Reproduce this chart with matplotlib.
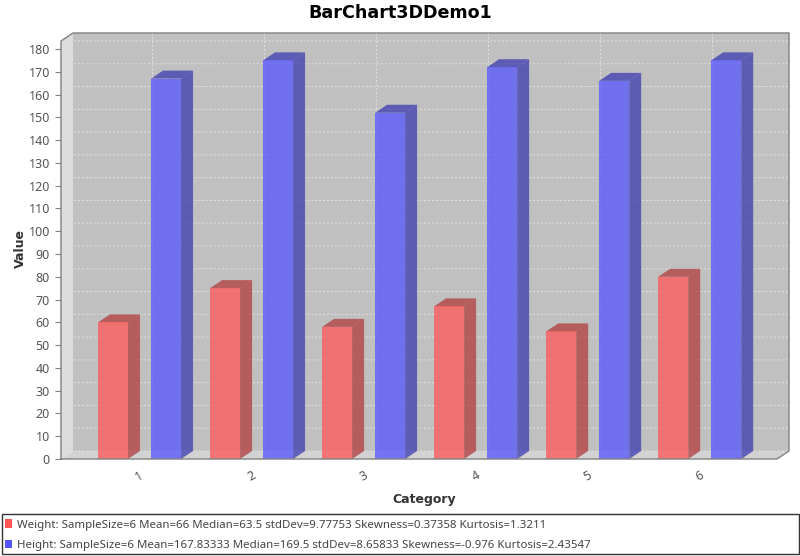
import matplotlib
matplotlib.use("Agg")
import matplotlib.pyplot as plt
from matplotlib.patches import Polygon, Patch, Rectangle

plt.rcParams['font.family'] = ['Noto Sans', 'DejaVu Sans']

categories = [1, 2, 3, 4, 5, 6]
weight = [60, 75, 58, 67, 56, 80]
height = [167, 175, 152, 172, 166, 175]
weight_label = "Weight: SampleSize=6 Mean=66 Median=63.5 stdDev=9.77753 Skewness=0.37358 Kurtosis=1.3211"
height_label = "Height: SampleSize=6 Mean=167.83333 Median=169.5 stdDev=8.65833 Skewness=-0.976 Kurtosis=2.43547"
y_ticks = list(range(0, 190, 10))

W, H = 800, 556
# front plane of the 3d box, in pixels
LEFT, RIGHT, TOP, BOTTOM = 61, 777, 41, 459
X0, X1 = 0.299, 6.69
Y1 = 183.5
DX = 12 * (X1 - X0) / (RIGHT - LEFT)
DY = 8 * Y1 / (BOTTOM - TOP)
BAR_W = 30 * (X1 - X0) / (RIGHT - LEFT)
GAP = 23 * (X1 - X0) / (RIGHT - LEFT)

GREY = "#808080"
GRID = "#E2E2E2"
BOLD = "DejaVu Sans"


def poly(ax, pts, color, z, alpha=None):
    ax.add_patch(Polygon(pts, closed=True, facecolor=color, edgecolor="none",
                         alpha=alpha, zorder=z, clip_on=False))


def bar3d(ax, x, val, front, dark, z):
    x2 = x + BAR_W
    poly(ax, [(x2, 0), (x2 + DX, DY), (x2 + DX, val + DY), (x2, val)], dark, z, 0.75)
    poly(ax, [(x, val), (x + DX, val + DY), (x2 + DX, val + DY), (x2, val)], dark, z, 0.75)
    poly(ax, [(x, 0), (x2, 0), (x2, val), (x, val)], front, z + 0.1, 0.75)


fig = plt.figure(figsize=(W / 100, H / 100), dpi=100)
ax = fig.add_axes([LEFT / W, 1 - BOTTOM / H, (RIGHT - LEFT) / W, (BOTTOM - TOP) / H])
ax.set_xlim(X0, X1)
ax.set_ylim(0, Y1)
ax.patch.set_visible(False)
for s in ["top", "right", "left", "bottom"]:
    ax.spines[s].set_visible(False)

# walls
poly(ax, [(X0 + DX, DY), (X1 + DX, DY), (X1 + DX, Y1 + DY), (X0 + DX, Y1 + DY)], "#C0C0C0", 1)
poly(ax, [(X0, 0), (X0 + DX, DY), (X0 + DX, Y1 + DY), (X0, Y1)], "#DDDDDD", 1)
poly(ax, [(X0, 0), (X1, 0), (X1 + DX, DY), (X0 + DX, DY)], "#D2D2D2", 1)

# grid on the back wall and side wall
dash = (0, (2, 2))
for v in y_ticks:
    ax.plot([X0, X0 + DX, X1 + DX], [v, v + DY, v + DY], color=GRID, lw=0.7,
            ls=dash, zorder=2, clip_on=False)
for c in categories:
    ax.plot([c + DX, c + DX], [DY, Y1 + DY], color=GRID, lw=0.7, ls=dash, zorder=2, clip_on=False)

# outline
ax.plot([X0, X0, X0 + DX, X1 + DX, X1 + DX, X1, X0], [0, Y1, Y1 + DY, Y1 + DY, DY, 0, 0],
        color=GREY, lw=1, zorder=5, clip_on=False)

for i, c in enumerate(categories):
    bar3d(ax, c - GAP / 2 - BAR_W, weight[i], "#FF5555", "#B23B3B", 3)
    bar3d(ax, c + GAP / 2, height[i], "#5555FF", "#3B3BB2", 3)

ax.set_yticks(y_ticks)
ax.set_xticks(categories)
ax.set_xticklabels([str(c) for c in categories], rotation=30, ha="center", va="top")
ax.tick_params(axis="y", length=4, width=0.8, color=GREY, labelcolor="#555555", labelsize=9, pad=4)
ax.tick_params(axis="x", length=0, labelcolor="#555555", labelsize=9, pad=7)

ax.set_ylabel("Value", fontsize=9, fontweight="bold", family=BOLD, color="#333333")
ax.yaxis.set_label_coords((20 - LEFT) / (RIGHT - LEFT), (BOTTOM - 248) / (BOTTOM - TOP))
ax.set_xlabel("Category", fontsize=9, fontweight="bold", family=BOLD, color="#333333")
ax.xaxis.set_label_coords((424 - LEFT) / (RIGHT - LEFT), (BOTTOM - 499) / (BOTTOM - TOP))
ax.xaxis.label.set_verticalalignment("center")
ax.yaxis.label.set_verticalalignment("center")

fig.text(400 / W, 1 - 13 / H, "BarChart3DDemo1", ha="center", va="center",
         fontsize=12.6, fontweight="bold", family=BOLD, color="black")

# legend box
fig.add_artist(Rectangle((2 / W, 1 - 554 / H), 797 / W, 40 / H, transform=fig.transFigure,
                         facecolor="white", edgecolor="#333333", lw=1))
handles = [Patch(facecolor="#FF5555", edgecolor="none", label=weight_label),
           Patch(facecolor="#5555FF", edgecolor="none", label=height_label)]
leg = fig.legend(handles=handles, loc="lower left",
                 bbox_to_anchor=(5 / W, 1 - 551 / H),
                 fontsize=8.25, frameon=False, borderaxespad=0, borderpad=0, labelspacing=0.8,
                 handlelength=0.62, handleheight=0.75, handletextpad=0.42)
for t in leg.get_texts():
    t.set_color("#444444")

fig.savefig("out.png", dpi=100)
